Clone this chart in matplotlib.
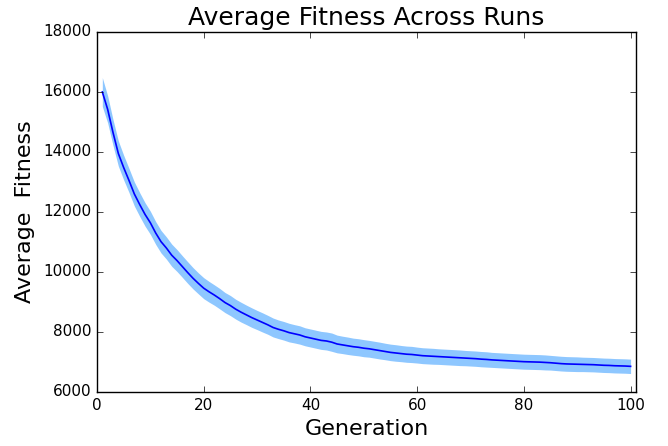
import numpy as np
from matplotlib import pyplot as plt

# Mean fitness per generation
generations = np.arange(1, 101)
meanFitness = [
    16000, 15420, 14650, 13950, 13480, 13050, 12600, 12250, 11920, 11640,
    11300, 11010, 10800, 10560, 10380, 10180, 9980, 9790, 9620, 9460,
    9340, 9230, 9110, 8980, 8880, 8760, 8660, 8570, 8480, 8400,
    8320, 8240, 8150, 8090, 8040, 7980, 7940, 7900, 7840, 7800,
    7760, 7720, 7700, 7660, 7600, 7570, 7540, 7510, 7490, 7460,
    7440, 7410, 7380, 7350, 7320, 7300, 7280, 7260, 7250, 7230,
    7210, 7200, 7190, 7180, 7170, 7160, 7150, 7140, 7130, 7120,
    7110, 7095, 7085, 7070, 7060, 7050, 7040, 7030, 7020, 7010,
    7005, 7000, 6995, 6985, 6975, 6960, 6945, 6935, 6930, 6925,
    6920, 6915, 6910, 6900, 6890, 6885, 6875, 6870, 6865, 6855,
]
# Spread (std) per generation
stdFitness = [
    480, 450, 430, 420, 410, 400, 400, 395, 390, 385,
    380, 375, 370, 370, 365, 360, 360, 355, 350, 350,
    345, 340, 340, 335, 335, 330, 330, 325, 325, 320,
    320, 315, 315, 310, 310, 310, 305, 305, 300, 300,
    300, 300, 300, 305, 295, 290, 290, 285, 285, 285,
    280, 280, 280, 275, 275, 275, 270, 270, 270, 265,
    265, 265, 265, 260, 260, 260, 260, 260, 255, 255,
    255, 255, 255, 250, 250, 250, 250, 250, 250, 250,
    250, 250, 250, 250, 245, 245, 245, 245, 245, 245,
    240, 240, 240, 240, 240, 240, 240, 240, 240, 240,
]

meanFitness = np.array(meanFitness)
stdFitness = np.array(stdFitness)

plt.style.use('classic')
fig = plt.figure(figsize=(6.68, 4.46), dpi=100)
ax = fig.add_axes([0.1452, 0.1211, 0.8068, 0.8072])

ax.fill_between(generations, meanFitness - stdFitness, meanFitness + stdFitness,
                color='dodgerblue', alpha=0.5, linewidth=0)
ax.plot(generations, meanFitness, color='b', linewidth=1.2)

ax.set_xlim(0, 101)
ax.set_ylim(6000, 18000)
ax.set_xticks([0, 20, 40, 60, 80, 100])
ax.set_yticks(np.arange(6000, 18001, 2000))
ax.tick_params(labelsize=11)

ax.set_title('Average Fitness Across Runs', fontsize=18)
ax.set_xlabel('Generation', fontsize=16)
ax.set_ylabel('Average  Fitness', fontsize=16, labelpad=6)

fig.savefig('out.png', dpi=100, facecolor='white')
